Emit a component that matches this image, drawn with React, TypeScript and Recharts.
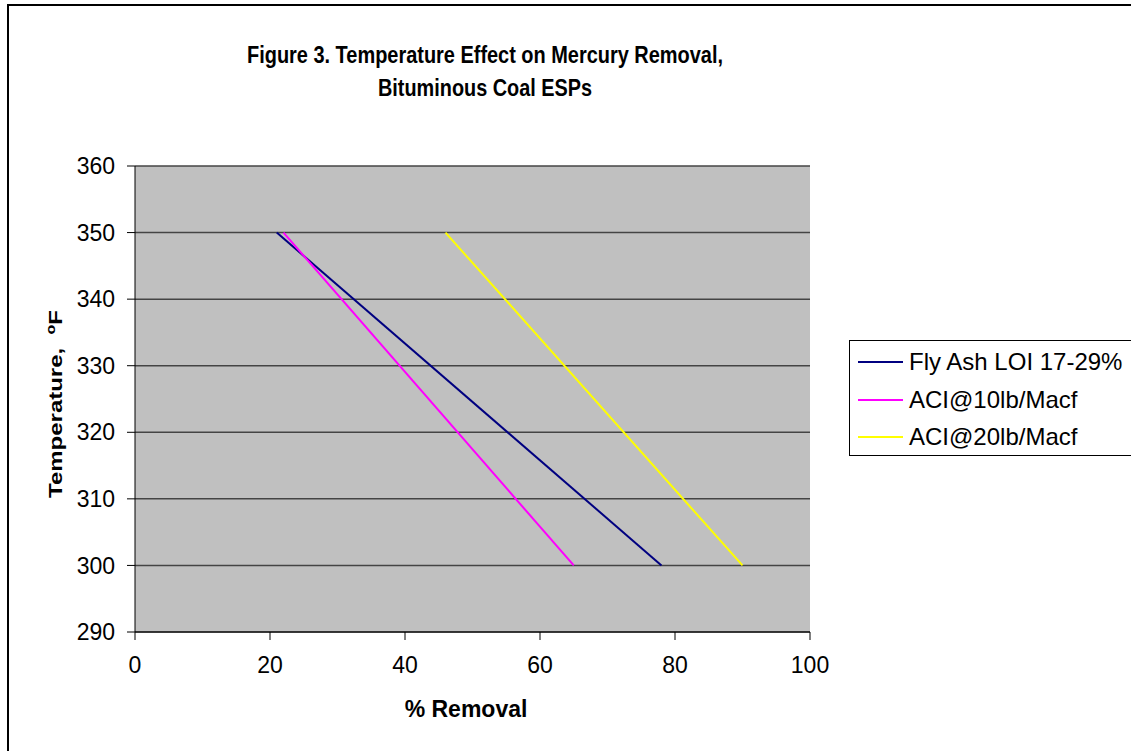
import React from "react";
import { LineChart, Line, XAxis, YAxis, CartesianGrid } from "recharts";

const flyAsh = [
  { x: 21, y: 350 },
  { x: 78, y: 300 },
];
const aci10 = [
  { x: 22, y: 350 },
  { x: 65, y: 300 },
];
const aci20 = [
  { x: 46, y: 350 },
  { x: 90, y: 300 },
];
const xTicks = [0, 20, 40, 60, 80, 100];
const yTicks = [290, 300, 310, 320, 330, 340, 350, 360];
const seriesNames = ["Fly Ash LOI 17-29%", "ACI@10lb/Macf", "ACI@20lb/Macf"];
const seriesColors = ["#000080", "#FF00FF", "#FFFF00"];
const titleLines = ["Figure 3. Temperature Effect on Mercury Removal,", "Bituminous Coal ESPs"];

const FONT = "'Liberation Sans', Arial, sans-serif";

const LegendBox = () => (
  <div
    style={{
      position: "absolute",
      left: 849,
      top: 340,
      width: 300,
      height: 116,
      border: "1px solid #000",
      background: "#fff",
      fontFamily: FONT,
      fontSize: 24,
      color: "#000",
      boxSizing: "border-box",
    }}
  >
    {seriesNames.map((n, i) => (
      <div key={n} style={{ position: "absolute", left: 8, top: 7 + i * 37.5, height: 28, display: "flex", alignItems: "center", whiteSpace: "nowrap" }}>
        <div style={{ width: 45, height: 2, background: seriesColors[i], marginRight: 6 }} />
        <span>{n}</span>
      </div>
    ))}
  </div>
);

export default function App() {
  return (
    <div style={{ position: "absolute", left: 0, top: 0, width: 1131, height: 751, overflow: "hidden", background: "#fff" }}>
      <div style={{ position: "absolute", left: 7, top: 4, width: 1200, height: 800, border: "2px solid #000", boxSizing: "border-box" }} />
      <svg style={{ position: "absolute", left: 0, top: 0 }} width={1131} height={120}>
        {titleLines.map((t, i) => (
          <text
            key={t}
            x={485}
            y={63 + i * 33}
            textAnchor="middle"
            fontFamily={FONT}
            fontWeight="bold"
            fontSize={24}
            textLength={i === 0 ? 476 : 214}
            lengthAdjust="spacingAndGlyphs"
            fill="#000"
          >
            {t}
          </text>
        ))}
      </svg>
      <div style={{ position: "absolute", left: 0, top: 0 }}>
        <LineChart
          width={1131}
          height={751}
          margin={{ top: 166, left: 75, right: 321, bottom: 59 }}
          style={{ fontFamily: FONT }}
        >
          <CartesianGrid vertical={false} stroke="#444" strokeWidth={1.5} fill="#C0C0C0" fillOpacity={1} />
          <XAxis
            type="number"
            dataKey="x"
            domain={[0, 100]}
            ticks={xTicks}
            height={60}
            tickSize={8}
            tickMargin={17}
            stroke="#000"
            tick={{ fill: "#000", fontSize: 23, fontFamily: FONT }}
            label={() => (
              <text x={466} y={717} textAnchor="middle" fontFamily={FONT} fontWeight="bold" fontSize={23} fill="#000">
                % Removal
              </text>
            )}
          />
          <YAxis
            type="number"
            dataKey="y"
            domain={[290, 360]}
            ticks={yTicks}
            width={60}
            tickSize={8}
            tickMargin={12}
            stroke="#000"
            tick={{ fill: "#000", fontSize: 23, fontFamily: FONT }}
            label={() => (
              <g transform="translate(62 404) rotate(-90) scale(1 0.8)">
                <text x={0} y={0} textAnchor="middle" fontFamily={FONT} fontWeight="bold" fontSize={24} fill="#000">
                  <tspan>{"Temperature,\u00A0\u00A0"}</tspan>
                  <tspan fontSize={16} dy={-9}>o</tspan>
                  <tspan dy={9}>F</tspan>
                </text>
              </g>
            )}
          />
          <Line data={flyAsh} dataKey="y" name={seriesNames[0]} stroke={seriesColors[0]} strokeWidth={2} dot={false} isAnimationActive={false} />
          <Line data={aci10} dataKey="y" name={seriesNames[1]} stroke={seriesColors[1]} strokeWidth={2} dot={false} isAnimationActive={false} />
          <Line data={aci20} dataKey="y" name={seriesNames[2]} stroke={seriesColors[2]} strokeWidth={2} dot={false} isAnimationActive={false} />
        </LineChart>
      </div>
      <LegendBox />
    </div>
  );
}
